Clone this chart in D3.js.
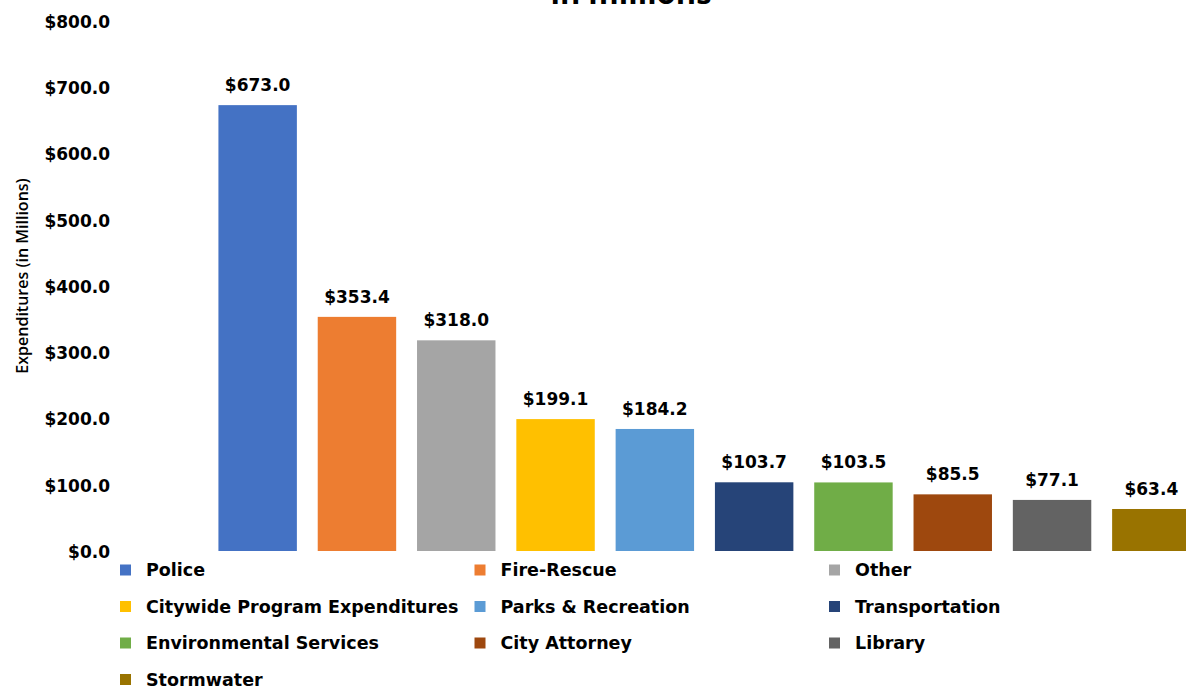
<!DOCTYPE html>
<html>
<head>
<meta charset="utf-8">
<script src="https://cdn.jsdelivr.net/npm/d3@7"></script>
<style>
  body { margin: 0; background: #fff; }
  text { font-family: "DejaVu Sans", sans-serif; }
</style>
</head>
<body>
<div id="wrapper"></div>
<script>
// chart values
const categories = ["Police", "Fire-Rescue", "Other", "Citywide Program Expenditures",
  "Parks & Recreation", "Transportation", "Environmental Services", "City Attorney",
  "Library", "Stormwater"]
const values = [673.0, 353.4, 318.0, 199.1, 184.2, 103.7, 103.5, 85.5, 77.1, 63.4]
const colors = ["#4472C4", "#ED7D31", "#A5A5A5", "#FFC000", "#5B9BD5",
  "#264478", "#70AD47", "#9E480E", "#636363", "#997300"]
const yTicks = [0, 100, 200, 300, 400, 500, 600, 700, 800]

function drawBars() {
  const dim = { width: 1186, height: 689 }

  const svg = d3.select("#wrapper")
    .append("svg")
    .attr("width", dim.width)
    .attr("height", dim.height)

  // scales
  const x_scale = d3.scaleBand()
    .domain(categories)
    .range([208, 1201])
    .paddingInner(0.21)
    .paddingOuter(0.105)
  const y_scale = d3.scaleLinear()
    .domain([0, 800])
    .range([551, 21])

  // title (only bottom of the second line is visible)
  svg.append("text")
    .attr("x", 631)
    .attr("y", 4)
    .attr("text-anchor", "middle")
    .style("font-family", "'Open Sans', sans-serif")
    .style("font-size", "31px")
    .style("font-weight", 700)
    .text("in millions")

  // y axis
  const yAxis = svg.append("g")
    .attr("transform", "translate(110,1)")
    .call(d3.axisLeft(y_scale)
      .tickValues(yTicks)
      .tickSize(0)
      .tickPadding(0)
      .tickFormat(d => "$" + d.toFixed(1)))
  yAxis.select(".domain").remove()
  yAxis.selectAll("text")
    .style("font-family", "'DejaVu Sans', sans-serif")
    .style("font-size", "17px")
    .style("font-weight", 700)
    .attr("fill", "#000")

  svg.append("text")
    .attr("transform", "translate(28,276) rotate(-90)")
    .attr("text-anchor", "middle")
    .style("font-family", "'Open Sans', sans-serif")
    .style("font-size", "16px")
    .style("font-weight", 600)
    .text("Expenditures (in Millions)")

  // bars
  const dat = categories.map((c, i) => ({ name: c, value: values[i], color: colors[i] }))
  svg.selectAll("rect.bar")
    .data(dat)
    .join("rect")
    .attr("class", "bar")
    .attr("x", d => x_scale(d.name))
    .attr("y", d => y_scale(d.value))
    .attr("width", x_scale.bandwidth())
    .attr("height", d => y_scale(0) - y_scale(d.value))
    .attr("fill", d => d.color)

  svg.selectAll("text.lbl")
    .data(dat)
    .join("text")
    .attr("class", "lbl")
    .attr("x", d => x_scale(d.name) + x_scale.bandwidth() / 2)
    .attr("y", d => y_scale(d.value) - 14)
    .attr("text-anchor", "middle")
    .style("font-size", "17px")
    .style("font-weight", 700)
    .text(d => "$" + d.value.toFixed(1))

  // legend, 3 columns
  const leg = svg.selectAll("g.leg")
    .data(dat)
    .join("g")
    .attr("class", "leg")
    .attr("transform", (d, i) => `translate(${120 + (i % 3) * 354.5},${570 + Math.floor(i / 3) * 36.5})`)
  leg.append("rect")
    .attr("x", 0)
    .attr("y", -5.5)
    .attr("width", 11)
    .attr("height", 11)
    .attr("fill", d => d.color)
  leg.append("text")
    .attr("x", 26)
    .attr("y", 6)
    .style("font-size", "17.5px")
    .style("font-weight", 700)
    .text(d => d.name)
}
drawBars()
</script>
</body>
</html>
